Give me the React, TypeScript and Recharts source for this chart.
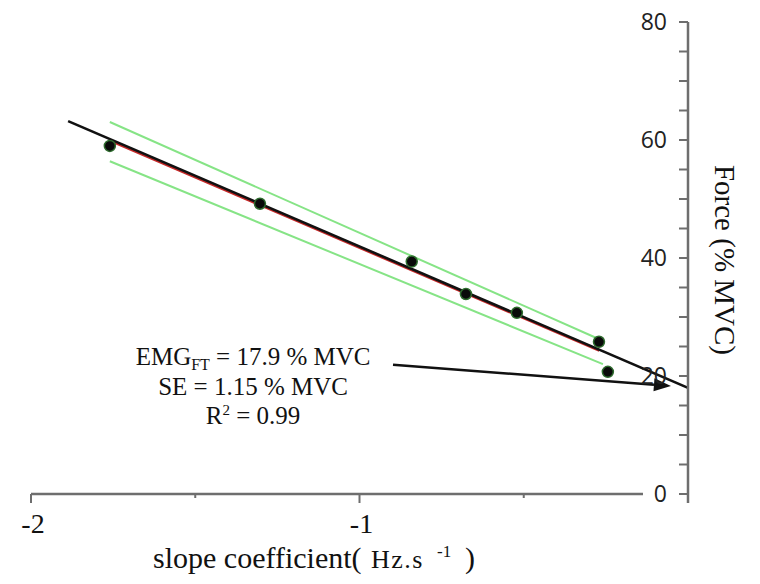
import React from 'react';
import { ComposedChart, XAxis, YAxis, Line, Scatter, ReferenceLine, ReferenceDot } from 'recharts';

// Measured points: slope coefficient (Hz.s^-1) vs force (% MVC)
const slopeCoefficient = [-1.76, -1.303, -0.841, -0.676, -0.521, -0.271, -0.244];
const forcePct = [59.0, 49.2, 39.4, 33.9, 30.7, 25.8, 20.7];

// Regression line (black) and underlying red fit
const fitX = [-1.887, 0];
const fitY = [63.2, 18.0];
const redFitX = [-1.76, -0.27];
const redFitY = [59.9, 24.3];

// Confidence band lines (green)
const upperBandX = [-1.76, -0.277];
const upperBandY = [63.05, 26.4];
const lowerBandX = [-1.76, -0.259];
const lowerBandY = [56.4, 22.0];

// Arrow pointing at the intercept
const arrowX = [-0.898, -0.052];
const arrowY = [21.9, 18.3];

// X axis line end (leaves room for the y "0" label)
const xAxisLineX = [-2, -0.137];

// Ticks
const xTicks = [-2, -1.5, -1, -0.5];
const xTickLabels = [-2, -1];
const yTicks = [0, 5, 10, 15, 20, 25, 30, 35, 40, 45, 50, 55, 60, 65, 70, 75, 80];
const yTickLabels = [0, 20, 40, 60, 80];

// Annotation
const annotationAnchor = { x: -1.324, y: 21.9 };
const emgFT = '17.9';
const seValue = '1.15';
const r2Value = '0.99';

const toPts = (xs: number[], ys: number[]) => xs.map((x, i) => ({ x, y: ys[i] }));

const points = toPts(slopeCoefficient, forcePct);
const fitPts = toPts(fitX, fitY);
const redPts = toPts(redFitX, redFitY);
const upperPts = toPts(upperBandX, upperBandY);
const lowerPts = toPts(lowerBandX, lowerBandY);

const AXIS = '#6e6e6e';
const SERIF = '"Liberation Serif", "Times New Roman", serif';
const SANS = '"Open Sans", "Liberation Sans", sans-serif';

const YTick = (props: any) => {
  const { x, y, payload } = props;
  const v = payload.value;
  return (
    <g>
      <line x1={x - 9} x2={x} y1={y} y2={y} stroke={AXIS} strokeWidth={2} />
      {v === 0 && <line x1={x} x2={x} y1={y} y2={y + 9} stroke={AXIS} strokeWidth={2.5} />}
      {yTickLabels.includes(v) && (
        <text x={x - 21} y={y} dy="0.36em" textAnchor="end" fontFamily={SANS} fontSize={23} fill="#222">
          {v}
        </text>
      )}
    </g>
  );
};

const XTick = (props: any) => {
  const { x, y, payload } = props;
  const v = payload.value;
  const major = xTickLabels.includes(v);
  return (
    <g>
      <line x1={x} x2={x} y1={y} y2={y + (major ? 9 : 4)} stroke={AXIS} strokeWidth={2} />
      {major && (
        <text x={x + 2} y={y + 39} textAnchor="middle" fontFamily={SERIF} fontSize={28} fill="#111">
          {String(v)}
        </text>
      )}
    </g>
  );
};

const renderXLabel = (props: any) => {
  const vb = props.viewBox;
  const x0 = vb.x + 122;
  const y0 = vb.y + 74;
  return (
    <text x={x0} y={y0} fontFamily={SERIF} fontSize={30} fill="#111">
      <tspan x={x0}>slope coefficient(</tspan>
      <tspan x={x0 + 218} fontSize={26} letterSpacing={1.5}>Hz.s</tspan>
      <tspan x={x0 + 284} fontSize={17} dy={-11}>-1</tspan>
      <tspan x={x0 + 312} dy={11}>)</tspan>
    </text>
  );
};

const renderYLabel = (props: any) => {
  const vb = props.viewBox;
  const cx = vb.x + 37;
  const cy = vb.y + vb.height / 2 + 2;
  return (
    <text
      x={cx}
      y={cy}
      textAnchor="middle"
      dominantBaseline="central"
      transform={`rotate(90, ${cx}, ${cy})`}
      fontFamily={SERIF}
      fontSize={29}
      fill="#111"
    >
      Force (% MVC)
    </text>
  );
};

const DotShape = (props: any) => {
  const { cx, cy } = props;
  return <circle cx={cx} cy={cy} r={5.5} fill="#0a0a0a" stroke="#2e6b2e" strokeWidth={1.5} />;
};

const ArrowShape = (props: any) => {
  const { x1, y1, x2, y2 } = props;
  const ang = Math.atan2(y2 - y1, x2 - x1);
  const len = 17;
  const hw = 6.5;
  const bx = x2 - len * Math.cos(ang);
  const by = y2 - len * Math.sin(ang);
  const px = -Math.sin(ang) * hw;
  const py = Math.cos(ang) * hw;
  return (
    <g>
      <line x1={x1} y1={y1} x2={bx} y2={by} stroke="#111" strokeWidth={2.5} />
      <polygon points={`${x2},${y2} ${bx + px},${by + py} ${bx - px},${by - py}`} fill="#111" />
    </g>
  );
};

const AnnotationShape = (props: any) => {
  const { cx, cy } = props;
  return (
    <g fontFamily={SERIF} fontSize={25} fill="#111">
      <text x={cx} y={cy} textAnchor="middle">
        EMG<tspan fontSize={16} dy={5}>FT</tspan>
        <tspan dy={-5}>{` = ${emgFT} % MVC`}</tspan>
      </text>
      <text x={cx} y={cy + 30} textAnchor="middle">
        {`SE = ${seValue} % MVC`}
      </text>
      <text x={cx} y={cy + 59} textAnchor="middle">
        R<tspan fontSize={15} dy={-9}>2</tspan>
        <tspan dy={9}>{` = ${r2Value}`}</tspan>
      </text>
    </g>
  );
};

export default function App() {
  return (
    <div style={{ position: 'absolute', left: 0, top: 0, background: '#fff' }}>
      <ComposedChart width={760} height={584} margin={{ top: 22, left: 31, right: 0, bottom: 0 }}>
        <XAxis
          type="number"
          dataKey="x"
          domain={[-2, 0]}
          ticks={xTicks}
          interval={0}
          axisLine={false}
          tickLine={false}
          tickSize={0}
          tickMargin={0}
          height={90}
          tick={XTick}
          label={renderXLabel}
          allowDataOverflow
        />
        <YAxis
          type="number"
          dataKey="y"
          orientation="right"
          domain={[0, 80]}
          ticks={yTicks}
          interval={0}
          width={72}
          axisLine={{ stroke: AXIS, strokeWidth: 2.5 }}
          tickLine={false}
          tickSize={0}
          tickMargin={0}
          tick={YTick}
          label={renderYLabel}
          allowDataOverflow
        />
        <ReferenceLine
          segment={[{ x: xAxisLineX[0], y: 0 }, { x: xAxisLineX[1], y: 0 }]}
          stroke={AXIS}
          strokeWidth={2.5}
          ifOverflow="visible"
        />
        <Line data={upperPts} dataKey="y" stroke="#86e486" strokeWidth={2} dot={false} isAnimationActive={false} />
        <Line data={lowerPts} dataKey="y" stroke="#86e486" strokeWidth={2} dot={false} isAnimationActive={false} />
        <Line data={redPts} dataKey="y" stroke="#c62828" strokeWidth={2.5} dot={false} isAnimationActive={false} />
        <Line data={fitPts} dataKey="y" stroke="#111" strokeWidth={2.6} dot={false} isAnimationActive={false} />
        <Scatter data={points} dataKey="y" shape={DotShape} isAnimationActive={false} />
        <ReferenceLine
          segment={[{ x: arrowX[0], y: arrowY[0] }, { x: arrowX[1], y: arrowY[1] }]}
          shape={ArrowShape}
          ifOverflow="visible"
        />
        <ReferenceDot
          x={annotationAnchor.x}
          y={annotationAnchor.y}
          r={0}
          shape={AnnotationShape}
          ifOverflow="visible"
        />
      </ComposedChart>
    </div>
  );
}
